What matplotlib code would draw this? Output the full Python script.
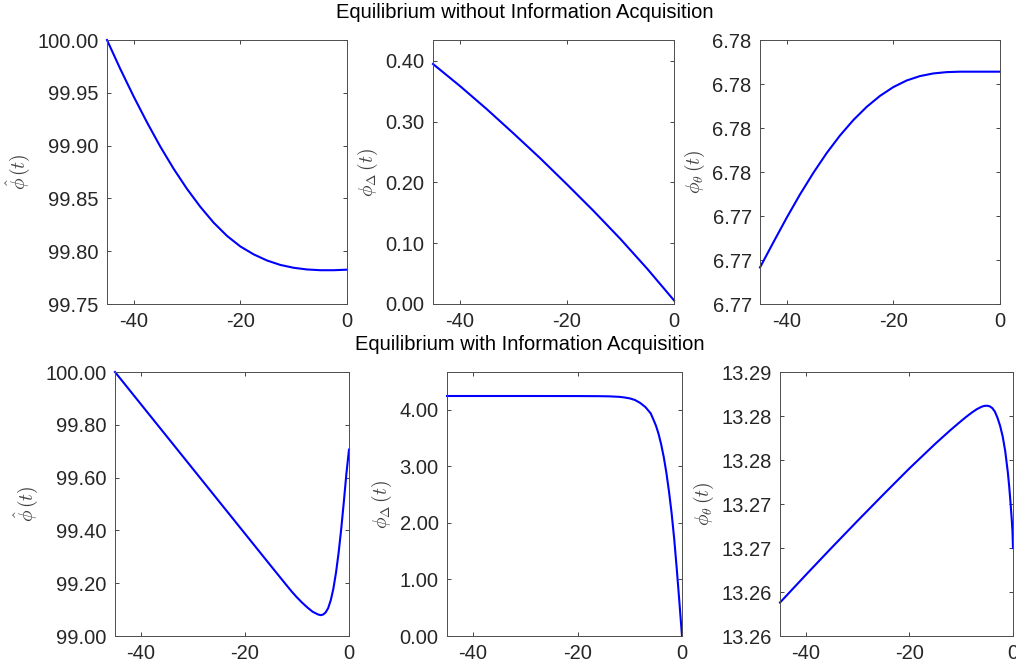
import numpy as np
import matplotlib
matplotlib.use("Agg")
import matplotlib.pyplot as plt
from matplotlib.ticker import FixedLocator, FormatStrFormatter, FixedFormatter

plt.rcParams["font.family"] = ["Liberation Sans", "DejaVu Sans"]
plt.rcParams["mathtext.fontset"] = "cm"
plt.rcParams["axes.unicode_minus"] = False  # plain hyphen like the original

# ---- data ----
# top row: equilibrium without information acquisition
t_fine = [-45, -42.5, -40, -37.5, -35, -32.5, -30, -27.5, -25, -22.5,
          -20, -17.5, -15, -12.5, -10, -7.5, -5, -2.5, 0]
phi_hat_no = [100.000, 99.9725, 99.9465, 99.9220, 99.8990, 99.8780, 99.8590,
              99.8420, 99.8270, 99.8145, 99.8045, 99.7970, 99.7912, 99.7870,
              99.7843, 99.7827, 99.7820, 99.7820, 99.7825]
t_delta_no = [-45, -40, -35, -30, -25, -20, -15, -10, -5, 0]
phi_delta_no = [0.395, 0.359, 0.321, 0.281, 0.240, 0.197, 0.153, 0.107, 0.058, 0.006]
phi_theta_no = [6.77383, 6.77440, 6.77496, 6.77549, 6.77598, 6.77643, 6.77683,
                6.77718, 6.77748, 6.77773, 6.77793, 6.77808, 6.77818, 6.77824,
                6.77827, 6.77828, 6.77828, 6.77828, 6.77828]

# bottom row: equilibrium with information acquisition
t_hat_info = [-45, -40, -35, -30, -25, -20, -15, -12, -11, -10, -9, -8, -7, -6,
              -5.5, -5, -4.5, -4, -3.5, -3, -2.5, -2, -1.5, -1, -0.5, 0]
phi_hat_info = [100.000, 99.8775, 99.7550, 99.6325, 99.5100, 99.3875, 99.2650,
                99.1920, 99.1680, 99.1460, 99.1260, 99.1080, 99.0920, 99.0820,
                99.0790, 99.0810, 99.0890, 99.1060, 99.1360, 99.1800, 99.2400,
                99.3150, 99.4050, 99.5070, 99.6150, 99.7060]
t_delta_info = [-45, -30, -20, -16, -14, -12, -11, -10, -9, -8, -7, -6, -5.5,
                -5, -4.5, -4, -3.5, -3, -2.5, -2, -1.5, -1, -0.5, 0]
phi_delta_info = [4.241, 4.241, 4.240, 4.238, 4.235, 4.226, 4.215, 4.199, 4.170,
                  4.118, 4.045, 3.935, 3.830, 3.720, 3.575, 3.390, 3.165, 2.890,
                  2.560, 2.180, 1.723, 1.184, 0.600, 0.0]
t_theta_info = [-45, -40, -35, -30, -25, -20, -15, -12, -10, -9, -8, -7, -6,
                -5.5, -5, -4.5, -4, -3.5, -3, -2.5, -2, -1.5, -1, -0.75, -0.5,
                -0.25, -0.1, 0]
phi_theta_info = [13.26380, 13.26695, 13.27005, 13.27310, 13.27610, 13.27905,
                  13.28185, 13.28344, 13.28444, 13.28492, 13.28537, 13.28577,
                  13.28607, 13.28615, 13.28617, 13.28610, 13.28590, 13.28550,
                  13.28480, 13.28390, 13.28270, 13.28100, 13.27860, 13.27710,
                  13.27530, 13.27330, 13.27190, 13.27000]

x_ticks = [-40, -20, 0]
theta_no_ticks = [6.773, 6.774, 6.775, 6.776, 6.777, 6.778, 6.779]
theta_no_labels = ["6.77", "6.77", "6.77", "6.78", "6.78", "6.78", "6.78"]
theta_info_ticks = [13.260, 13.265, 13.270, 13.275, 13.280, 13.285, 13.290]
theta_info_labels = ["13.26", "13.26", "13.27", "13.27", "13.28", "13.28", "13.29"]

W, H = 1016, 665
fig = plt.figure(figsize=(W / 100, H / 100), dpi=100, facecolor="white")

TXT = "#262626"


def px_axes(x0, x1, y0, y1):
    return fig.add_axes([x0 / W, 1 - y1 / H, (x1 - x0) / W, (y1 - y0) / H])


def style(ax, ylim, yticks, ylabel, labels=None):
    ax.set_xlim(-45, 0)
    ax.set_ylim(*ylim)
    ax.xaxis.set_major_locator(FixedLocator(x_ticks))
    ax.yaxis.set_major_locator(FixedLocator(yticks))
    if labels is None:
        ax.yaxis.set_major_formatter(FormatStrFormatter("%.2f"))
    else:
        ax.yaxis.set_major_formatter(FixedFormatter(labels))
    ax.tick_params(direction="in", length=3, width=0.6, top=True, right=True,
                   labelsize=14.5, colors=TXT, pad=6)
    for s in ax.spines.values():
        s.set_linewidth(0.7)
        s.set_color("#4d4d4d")
    ax.set_ylabel(ylabel, fontsize=14, color="#404040", labelpad=4)


panels = [
    ((107, 347, 40, 304), t_fine, phi_hat_no, (99.75, 100.0),
     [99.75, 99.80, 99.85, 99.90, 99.95, 100.0], r"$\hat{\phi}\,(t)$", None),
    ((433, 674, 40, 304), t_delta_no, phi_delta_no, (0, 1.1 * max(phi_delta_no)),
     [0, 0.1, 0.2, 0.3, 0.4], r"$\phi_\Delta\,(t)$", None),
    ((760, 1000, 40, 304), t_fine, phi_theta_no, (6.773, 6.779),
     theta_no_ticks, r"$\phi_\theta\,(t)$", theta_no_labels),
    ((115, 349, 372, 636), t_hat_info, phi_hat_info, (99.0, 100.0),
     [99.0, 99.2, 99.4, 99.6, 99.8, 100.0], r"$\hat{\phi}\,(t)$", None),
    ((447, 682, 372, 636), t_delta_info, phi_delta_info, (0, 1.1 * max(phi_delta_info)),
     [0, 1, 2, 3, 4], r"$\phi_\Delta\,(t)$", None),
    ((780, 1013, 372, 636), t_theta_info, phi_theta_info, (13.26, 13.29),
     theta_info_ticks, r"$\phi_\theta\,(t)$", theta_info_labels),
]

for box, tt, yy, ylim, yticks, ylabel, labels in panels:
    ax = px_axes(*box)
    ax.plot(tt, yy, color="#0000ff", linewidth=1.5, clip_on=False,
            solid_joinstyle="round")
    style(ax, ylim, yticks, ylabel, labels)

fig.text(525 / W, 1 - 12 / H, "Equilibrium without Information Acquisition",
         ha="center", va="center", fontsize=14.5, color="black")
fig.text(530 / W, 1 - 344 / H, "Equilibrium with Information Acquisition",
         ha="center", va="center", fontsize=14.5, color="black")

fig.savefig("out.png", dpi=100, facecolor="white")
